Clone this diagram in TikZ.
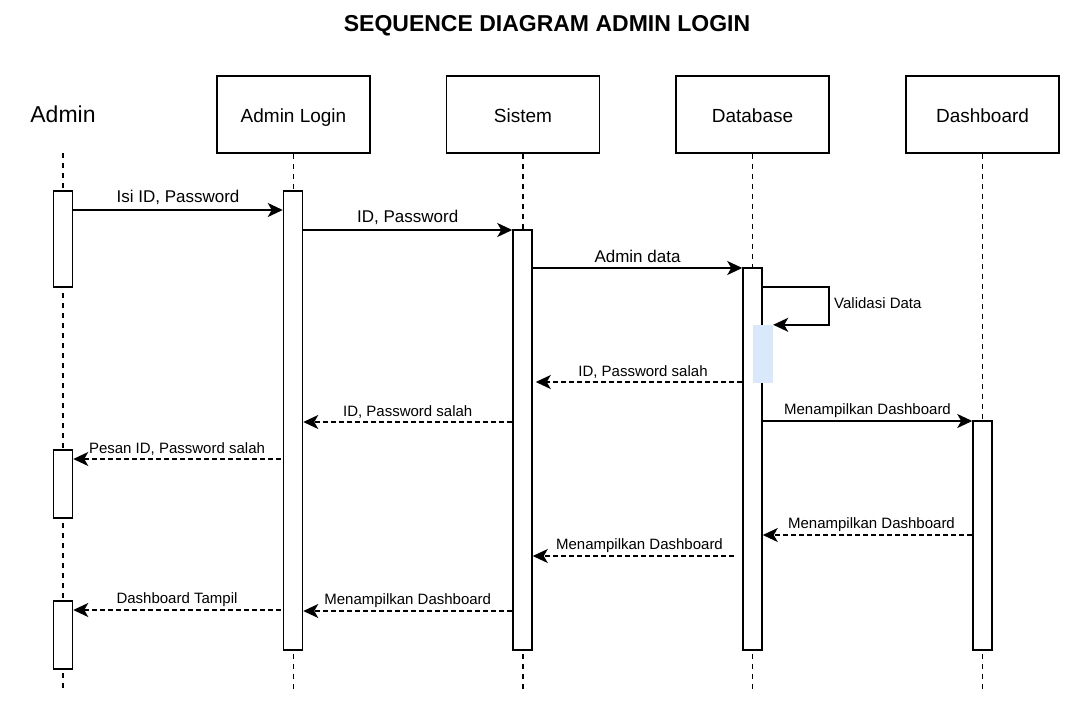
\documentclass[tikz,border=0pt]{standalone}
\usepackage{fontspec}
\setmainfont{Liberation Sans}
\usetikzlibrary{arrows.meta}
\definecolor{valblue}{HTML}{DAE8FC}
\tikzset{
	headbox/.style={draw, line width=1.5pt, minimum width=153pt, minimum height=77pt, text height=17pt, text depth=2pt, font=\fontsize{19}{22}\selectfont},
	life/.style={line width=1.5pt, dash pattern=on 5pt off 5pt},
	actbox/.style={draw, fill=white, line width=1.5pt, minimum width=19pt, inner sep=0pt},
	msg/.style={line width=1.6pt, -{Stealth[length=15pt, width=14pt, inset=4pt]}},
	ret/.style={msg, dash pattern=on 5pt off 3pt},
	lbl/.style={font=\fontsize{15}{18}\selectfont, inner sep=3pt},
	lblbig/.style={font=\fontsize{17}{20}\selectfont, inner sep=5pt}
}
\begin{document}
\begin{tikzpicture}[x=1pt, y=-1pt]
		\useasboundingbox (0,0) rectangle (1082,710);

		\node[font=\bfseries\fontsize{23}{27}\selectfont] (title) at (547,26) {SEQUENCE DIAGRAM ADMIN LOGIN};

		\node[font=\fontsize{23}{27}\selectfont] (admin) at (63,114) {Admin};
		\node[headbox] (login) at (293.5,114.5) {Admin Login};
		\node[headbox] (sistem) at (523,114.5) {Sistem};
		\node[headbox] (db) at (752.5,114.5) {Database};
		\node[headbox] (dash) at (982.5,114.5) {Dashboard};

		\draw[life] (63,153) -- (63,690);
		\draw[life] (login.south) -- (login.south |- 0,690);
		\draw[life] (sistem.south) -- (sistem.south |- 0,690);
		\draw[life] (db.south) -- (db.south |- 0,690);
		\draw[life] (dash.south) -- (dash.south |- 0,690);

		\node[actbox, minimum height=96pt] (adminA) at (63,239) {};
		\node[actbox, minimum height=68pt] (adminB) at (63,484) {};
		\node[actbox, minimum height=68pt] (adminC) at (63,635) {};
		\node[actbox, minimum height=459pt] (loginA) at (293,420.5) {};
		\node[actbox, minimum height=420pt] (sistemA) at (522.5,440) {};
		\node[actbox, minimum height=382pt] (dbA) at (752.5,459) {};
		\node[actbox, minimum height=229pt] (dashA) at (982.5,535.5) {};
		\node[fill=valblue, minimum width=20pt, minimum height=58pt, inner sep=0pt] (val) at (763,354) {};

		\draw[msg] (adminA.east |- 0,210) -- (loginA.west |- 0,210) node[midway, above, lblbig] {Isi ID, Password};
		\draw[msg] (loginA.east |- 0,230) -- (sistemA.west |- 0,230) node[midway, above, lblbig] {ID, Password};
		\draw[msg] (sistemA.east |- 0,268) -- (dbA.west |- 0,268) node[midway, above, lblbig] {Admin data};

		\coordinate (selfturn) at (829,287);
		\draw[msg] (dbA.east |- 0,287) -- (selfturn) |- (val.north east);
		\node[lbl, anchor=west] (vallbl) at (831,303) {Validasi Data};

		\draw[ret] (dbA.west |- 0,382) -- ([xshift=3pt]sistemA.east |- 0,382) node[midway, above, lbl, xshift=4pt] {ID, Password salah};
		\draw[ret] (sistemA.west |- 0,422) -- (loginA.east |- 0,422) node[midway, above, lbl] {ID, Password salah};
		\draw[msg] (dbA.east |- 0,421) -- (dashA.west |- 0,421) node[midway, above, lbl] {Menampilkan Dashboard};
		\draw[ret] ([xshift=-2pt]loginA.west |- 0,459) -- (adminB.east |- 0,459) node[midway, above, lbl] {Pesan ID, Password salah};

		\draw[ret] (dashA.west |- 0,535) -- (dbA.east |- 0,535) node[midway, above, lbl, xshift=4pt] {Menampilkan Dashboard};
		\draw[ret] ([xshift=-8pt]dbA.west |- 0,556) -- (sistemA.east |- 0,556) node[midway, above, lbl, xshift=6pt] {Menampilkan Dashboard};
		\draw[ret] ([xshift=-2pt]loginA.west |- 0,610) -- (adminC.east |- 0,610) node[midway, above, lbl] {Dashboard Tampil};
		\draw[ret] (sistemA.west |- 0,611) -- (loginA.east |- 0,611) node[midway, above, lbl] {Menampilkan Dashboard};
	\end{tikzpicture}
\end{document}
